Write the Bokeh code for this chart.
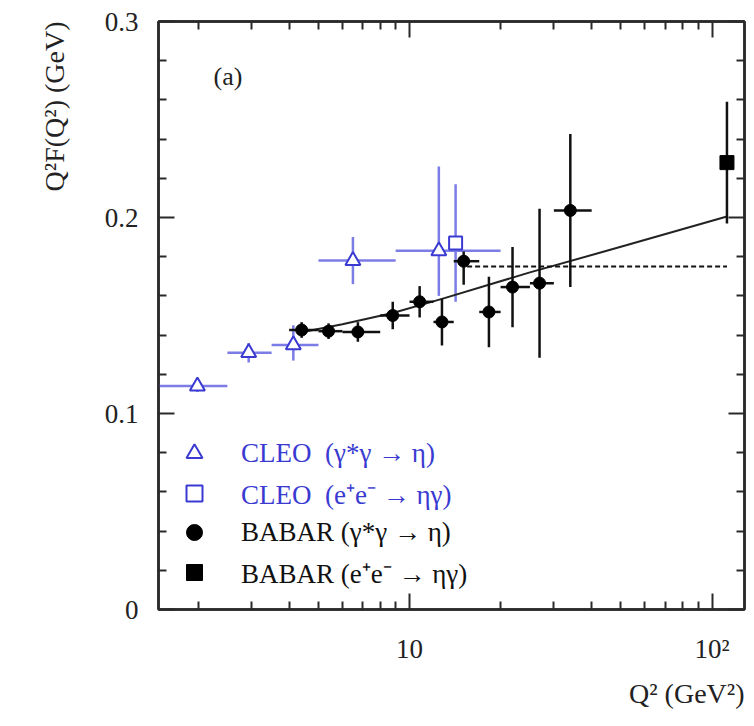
import math
from bokeh.plotting import figure
from bokeh.models import (ColumnDataSource, FixedTicker, LinearAxis, LogAxis,
                          Label, Legend, LegendItem, Title)
from bokeh.embed import file_html
from bokeh.resources import INLINE
from bokeh.core.properties import value

# ---------------- data ----------------
# CLEO  gamma* gamma -> eta
cleo_q2 = [1.99, 2.94, 4.13, 6.5, 12.5]
cleo_q2_lo = [1.45, 2.5, 3.5, 5.0, 9.0]
cleo_q2_hi = [2.5, 3.5, 5.0, 9.0, 20.0]
cleo_val = [0.114, 0.131, 0.135, 0.178, 0.183]
cleo_err_lo = [0.003, 0.005, 0.008, 0.012, 0.023]
cleo_err_hi = [0.003, 0.005, 0.010, 0.012, 0.043]

# CLEO  e+e- -> eta gamma
cleo_ee_q2 = [14.2]
cleo_ee_val = [0.187]
cleo_ee_err = [0.030]

# BABAR gamma* gamma -> eta
babar_q2 = [4.4, 5.4, 6.75, 8.8, 10.8, 12.8, 15.1, 18.3, 21.9, 26.9, 34.0]
babar_q2_lo = [4, 5, 6, 8, 10, 12, 14, 17, 20, 25, 30]
babar_q2_hi = [5, 6, 8, 10, 12, 14, 17, 20, 25, 30, 40]
babar_val = [0.1426, 0.142, 0.1416, 0.150, 0.157, 0.1467, 0.1777, 0.1518, 0.1645, 0.1665, 0.2036]
babar_err_lo = [0.004, 0.004, 0.005, 0.007, 0.008, 0.012, 0.012, 0.018, 0.0205, 0.038, 0.039]
babar_err_hi = [0.004, 0.004, 0.005, 0.007, 0.008, 0.012, 0.005, 0.018, 0.0205, 0.038, 0.039]

# BABAR e+e- -> eta gamma
babar_ee_q2 = [112.0]
babar_ee_val = [0.228]
babar_ee_err = [0.031]

# fit curve and asymptotic (dashed) line
fit_q2 = [4.4, 6.0, 8.8, 12.8, 25.0, 52.0, 112.0]
fit_val = [0.1415, 0.1455, 0.1513, 0.1585, 0.172, 0.1858, 0.2005]
asym_q2 = [15.5, 112.0]
asym_val = [0.175, 0.175]

y_ticks = [0, 0.1, 0.2, 0.3]
y_tick_labels = ["0", "0.1", "0.2", "0.3"]
x_ticks = [1, 10, 100]
x_tick_labels = ["", "10", "10²"]

legend_cleo = ["CLEO  (γ*γ → η)", "CLEO  (e⁺e⁻ → ηγ)"]
legend_babar = ["BABAR (γ*γ → η)", "BABAR (e⁺e⁻ → ηγ)"]

# ---------------- style ----------------
FONT = "Liberation Serif"
BLUE = "#3a3ad2"
BLUE_BAR = "#7c7ce6"
AX = "#2a2a2a"

p = figure(width=746, height=717, x_axis_type="log",
           x_range=(1.48, 128), y_range=(0, 0.3),
           output_backend="svg", toolbar_location=None,
           min_border_left=158, min_border_right=2,
           min_border_top=21, min_border_bottom=105)
p.xgrid.visible = False
p.ygrid.visible = False
p.outline_line_color = AX
p.outline_line_width = 2.5
p.background_fill_color = "white"
p.border_fill_color = "white"

y_minor = [round(0.02 * i, 2) for i in range(16) if i % 5 != 0]
x_minor = [m * 10 ** e for e in (0, 1) for m in range(2, 10)]
yt = FixedTicker(ticks=y_ticks, minor_ticks=y_minor)
xt = FixedTicker(ticks=x_ticks, minor_ticks=x_minor)


def style_axis(ax):
    ax.axis_line_color = AX
    ax.axis_line_width = 2.5
    ax.major_tick_in = 16
    ax.major_tick_out = 0
    ax.minor_tick_in = 8
    ax.minor_tick_out = 0
    ax.major_tick_line_color = AX
    ax.major_tick_line_width = 2
    ax.minor_tick_line_color = AX
    ax.minor_tick_line_width = 2
    ax.major_label_text_font = FONT
    ax.major_label_text_color = "#222222"
    ax.major_label_text_font_size = "27px"


yax = p.yaxis[0]
yax.ticker = yt
yax.major_label_overrides = {t: s for t, s in zip(y_ticks, y_tick_labels)}
style_axis(yax)
yax.major_label_standoff = 20

xax = p.xaxis[0]
xax.ticker = xt
xax.major_label_overrides = {t: s for t, s in zip(x_ticks, x_tick_labels)}
style_axis(xax)
xax.major_label_standoff = 24

rax = LinearAxis(ticker=yt)
style_axis(rax)
rax.major_label_text_alpha = 0
rax.major_label_text_font_size = "2px"
rax.major_label_standoff = 0
p.add_layout(rax, "right")
tax = LogAxis(ticker=xt)
style_axis(tax)
tax.major_label_text_alpha = 0
tax.major_label_text_font_size = "2px"
tax.major_label_standoff = 0
p.add_layout(tax, "above")

# axis titles (aligned to the ends of the axes, as in the reference)
p.add_layout(Title(text="Q²F(Q²) (GeV)", align="right", text_font=FONT,
                   text_font_size="28px", text_font_style="normal",
                   text_color="#222222", standoff=64), "left")
p.add_layout(Title(text="Q² (GeV²)", align="right", text_font=FONT,
                   text_font_size="28px", text_font_style="normal",
                   text_color="#222222", standoff=18), "below")

# ---------------- glyphs ----------------
cleo = ColumnDataSource(dict(
    q2=cleo_q2, lo=cleo_q2_lo, hi=cleo_q2_hi, val=cleo_val,
    ylo=[v - e for v, e in zip(cleo_val, cleo_err_lo)],
    yhi=[v + e for v, e in zip(cleo_val, cleo_err_hi)]))
cleo_ee = ColumnDataSource(dict(
    q2=cleo_ee_q2, val=cleo_ee_val,
    ylo=[v - e for v, e in zip(cleo_ee_val, cleo_ee_err)],
    yhi=[v + e for v, e in zip(cleo_ee_val, cleo_ee_err)]))
babar = ColumnDataSource(dict(
    q2=babar_q2, lo=babar_q2_lo, hi=babar_q2_hi, val=babar_val,
    ylo=[v - e for v, e in zip(babar_val, babar_err_lo)],
    yhi=[v + e for v, e in zip(babar_val, babar_err_hi)]))
babar_ee = ColumnDataSource(dict(
    q2=babar_ee_q2, val=babar_ee_val,
    ylo=[v - e for v, e in zip(babar_ee_val, babar_ee_err)],
    yhi=[v + e for v, e in zip(babar_ee_val, babar_ee_err)]))

# CLEO error bars
p.segment(x0="lo", x1="hi", y0="val", y1="val", source=cleo, line_color=BLUE_BAR, line_width=2.5)
p.segment(x0="q2", x1="q2", y0="ylo", y1="yhi", source=cleo, line_color=BLUE_BAR, line_width=2.5)
p.segment(x0="q2", x1="q2", y0="ylo", y1="yhi", source=cleo_ee, line_color=BLUE_BAR, line_width=2.5)
r_cleo = p.scatter("q2", "val", source=cleo, marker="triangle", size=15,
                   line_color=BLUE, line_width=2, fill_color="white")
r_cleo_ee = p.scatter("q2", "val", source=cleo_ee, marker="square", size=13,
                      line_color=BLUE, line_width=2, fill_color="white")

# fit lines
p.line(fit_q2, fit_val, line_color="#222222", line_width=2)
p.line(asym_q2, asym_val, line_color="#111111", line_width=2, line_dash="5 3")

# BABAR error bars
p.segment(x0="lo", x1="hi", y0="val", y1="val", source=babar, line_color="#111111", line_width=2.5)
p.segment(x0="q2", x1="q2", y0="ylo", y1="yhi", source=babar, line_color="#111111", line_width=2.5)
p.segment(x0="q2", x1="q2", y0="ylo", y1="yhi", source=babar_ee, line_color="#111111", line_width=2.5)
r_babar = p.scatter("q2", "val", source=babar, marker="circle", size=12,
                    line_color="black", fill_color="black")
r_babar_ee = p.scatter("q2", "val", source=babar_ee, marker="square", size=14,
                       line_color="black", fill_color="black")

# ---------------- legends ----------------
def make_legend(items, color, loc):
    lg = Legend(items=items, location=loc, orientation="vertical",
                glyph_width=40, glyph_height=40, spacing=0, padding=0, margin=0,
                label_standoff=27, label_text_font=FONT, label_text_font_size="27px",
                label_text_color=color, border_line_color=None,
                background_fill_alpha=0, label_height=40)
    return lg

lg1 = make_legend([LegendItem(label=legend_cleo[0], renderers=[r_cleo]),
                   LegendItem(label=legend_cleo[1], renderers=[r_cleo_ee])],
                  BLUE, (16, 96))
lg2 = make_legend([LegendItem(label=legend_babar[0], renderers=[r_babar]),
                   LegendItem(label=legend_babar[1], renderers=[r_babar_ee])],
                  "#111111", (16, 17))
p.add_layout(lg1)
p.add_layout(lg2)

# ---------------- texts ----------------
p.add_layout(Label(x=2.25, y=0.272, text="(a)", text_font=FONT,
                   text_font_size="26px", text_baseline="middle", text_color="#222222"))

open("out.html", "w").write(file_html(p, INLINE))
